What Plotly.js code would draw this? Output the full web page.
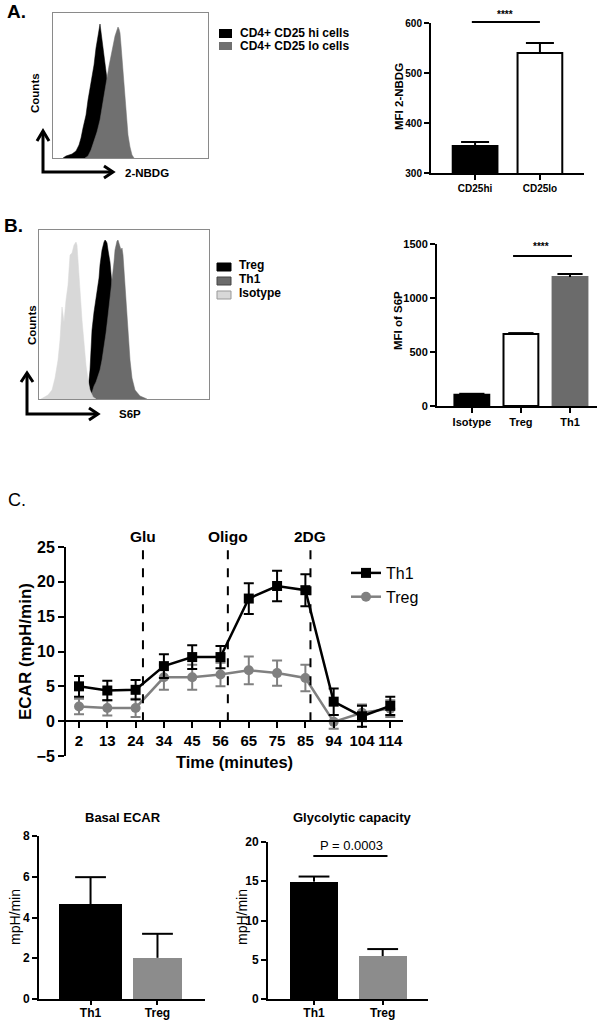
<!DOCTYPE html>
<html><head><meta charset="utf-8">
<script src="https://cdn.plot.ly/plotly-3.0.1.min.js"></script>
<style>html,body{margin:0;padding:0;background:#fff}</style>
</head><body><div id="chart" style="width:602px;height:1020px"></div>
<script>
// ---------- DATA ----------
// Panel A histogram (fluorescence channel vs counts)
const aHiChannel = [10,13,19,23,26,28,30,33,35,37,39,41,43,44,45,46,47,48,49,50,52,54,56,58,60,61];
const aHiCounts  = [0,2,4,7,13,20,30,43,58,70,78,93,110,118,123,128,134,126,118,113,98,83,63,38,13,0];
const aLoChannel = [32,35,38,41,44,47,50,52,54,56,58,60,62,64,65,66,67,68,69,71,72,73,74,75,77,79,81];
const aLoCounts  = [0,2,8,16,26,38,58,70,80,92,103,113,122,128,131,129,125,113,100,78,63,48,36,23,11,3,0];
const aLegend = ['CD4+ CD25 hi cells','CD4+ CD25 lo cells'];
// Panel A bars
const aBarCats = ['CD25hi','CD25lo'];
const aBarMean = [354, 540];
const aBarSem  = [8, 20];
// Panel B histogram
const bTregChannel = [45,49,51,52,53,55,57,58,60,61,63,65,66,67,68,69,71,73,75,77,79,81,83];
const bTregCounts  = [0,9,29,49,69,87,99,109,121,134,149,157,159,158,156,149,137,114,89,59,29,9,0];
const bTh1Channel  = [51,53,55,57,59,61,63,65,67,69,71,73,74,75,76,77,78,79,80,81,82,83,84,85,87,89,91,93,96,101,108];
const bTh1Counts   = [0,7,13,17,23,29,39,51,66,83,100,114,124,137,149,155,158,159,156,151,149,151,144,129,99,64,39,21,9,3,0];
const bIsoChannel  = [2,9,13,16,19,21,23,25,27,29,31,33,35,37,38,39,41,43,45,47,49,51,54,57];
const bIsoCounts   = [0,4,9,21,39,59,92,77,99,114,144,146,154,157,154,134,109,79,54,34,19,9,2,0];
const bLegend = ['Treg','Th1','Isotype'];
// Panel B bars
const bBarCats = ['Isotype','Treg','Th1'];
const bBarMean = [105, 667, 1194];
const bBarSem  = [8, 8, 28];
// Panel C ECAR time course
const times    = ['2','13','24','34','45','56','65','75','85','94','104','114'];
const th1Ecar  = [5.0,4.4,4.5,7.9,9.2,9.2,17.6,19.4,18.8,2.8,0.7,2.2];
const th1Sem   = [1.5,1.4,1.4,1.7,1.7,1.6,2.2,2.2,2.3,1.9,1.5,1.3];
const tregEcar = [2.1,1.9,1.9,6.3,6.3,6.7,7.3,6.9,6.2,-0.1,1.2,1.8];
const tregSem  = [1.1,1.1,1.3,1.8,1.8,1.7,2.0,1.8,1.9,1.0,1.2,1.2];
const injections = ['Glu','Oligo','2DG'];
// Bottom bars
const groupCats = ['Th1','Treg'];
const basalMean = [4.65, 2.02];
const basalSem  = [1.33, 1.18];
const glycoMean = [14.95, 5.47];
const glycoSem  = [0.65, 0.89];

// ---------- LAYOUT HELPERS ----------
const W = 602, H = 1020;
const FONT = 'Liberation Sans, Arial, sans-serif';
const dx = (a,b) => [a/W, b/W];
const dy = (t,b) => [1-b/H, 1-t/H];
const px = x => x/W;
const py = y => 1-y/H;
const P = (x,y) => `${px(x)},${py(y)}`;
const injectPos = [2.26, 5.26, 8.18];

const traces = [];
// bar + upward-only error bar (stem from bar top, cap only at the top)
function barWithError(cats, mean, sem, xa, ya, width, colors, lineColors, lineW, capSize) {
  traces.push({x:cats, y:mean, type:'bar', xaxis:xa, yaxis:ya, width:width,
    marker:{color:colors, line:{color:lineColors, width:lineW}}, showlegend:false, hoverinfo:'skip'});
  traces.push({x:cats, y:mean, type:'scatter', mode:'markers', xaxis:xa, yaxis:ya,
    marker:{size:1, color:'rgba(0,0,0,0)'},
    error_y:{type:'data', array:sem, arrayminus:sem.map(()=>0), symmetric:false, color:'#000', thickness:2, width:0},
    showlegend:false, hoverinfo:'skip'});
  traces.push({x:cats, y:mean.map((m,i)=>m+sem[i]), type:'scatter', mode:'markers', xaxis:xa, yaxis:ya,
    marker:{symbol:'line-ew', size:capSize, line:{color:'#000', width:2}}, showlegend:false, hoverinfo:'skip'});
}

// A histograms
traces.push({x:aHiChannel, y:aHiCounts, xaxis:'x', yaxis:'y', type:'scatter', mode:'lines', fill:'tozeroy',
  fillcolor:'#000000', line:{color:'#000000', width:0.5}, showlegend:false, hoverinfo:'skip'});
traces.push({x:aLoChannel, y:aLoCounts, xaxis:'x', yaxis:'y', type:'scatter', mode:'lines', fill:'tozeroy',
  fillcolor:'#707070', line:{color:'#707070', width:0.5}, showlegend:false, hoverinfo:'skip'});
// A bars
barWithError(aBarCats, aBarMean, aBarSem, 'x2', 'y2', 0.69, ['#000000','#ffffff'], '#000', 2, 20);
// B histograms
traces.push({x:bTregChannel, y:bTregCounts, xaxis:'x3', yaxis:'y3', type:'scatter', mode:'lines', fill:'tozeroy',
  fillcolor:'#000000', line:{color:'#000000', width:0.5}, showlegend:false, hoverinfo:'skip'});
traces.push({x:bTh1Channel, y:bTh1Counts, xaxis:'x3', yaxis:'y3', type:'scatter', mode:'lines', fill:'tozeroy',
  fillcolor:'#6b6b6b', line:{color:'#6b6b6b', width:0.5}, showlegend:false, hoverinfo:'skip'});
traces.push({x:bIsoChannel, y:bIsoCounts, xaxis:'x3', yaxis:'y3', type:'scatter', mode:'lines', fill:'tozeroy',
  fillcolor:'#d8d8d8', line:{color:'#d8d8d8', width:0.5}, showlegend:false, hoverinfo:'skip'});
// B bars
barWithError(bBarCats, bBarMean, bBarSem, 'x4', 'y4', 0.71, ['#000000','#ffffff','#6b6b6b'], ['#000','#000','#6b6b6b'], 2, 18);
// C lines
traces.push({x:times, y:tregEcar, name:'Treg', type:'scatter', mode:'lines+markers', xaxis:'x5', yaxis:'y5',
  line:{color:'#808080', width:2.5}, marker:{symbol:'circle', size:10, color:'#808080'},
  error_y:{type:'data', array:tregSem, color:'#808080', thickness:2, width:5}, legend:'legend', hoverinfo:'skip'});
traces.push({x:times, y:th1Ecar, name:'Th1', type:'scatter', mode:'lines+markers', xaxis:'x5', yaxis:'y5',
  line:{color:'#000000', width:2.5}, marker:{symbol:'square', size:10, color:'#000000'},
  error_y:{type:'data', array:th1Sem, color:'#000000', thickness:2, width:5}, legend:'legend', hoverinfo:'skip'});
// Basal ECAR bars
barWithError(groupCats, basalMean, basalSem, 'x6', 'y6', [0.94,0.73], ['#000000','#8c8c8c'], ['#000000','#8c8c8c'], 0, 22);
// Glycolytic capacity bars
barWithError(groupCats, glycoMean, glycoSem, 'x7', 'y7', 0.7, ['#000000','#8c8c8c'], ['#000000','#8c8c8c'], 0, 22);

const box = {showgrid:false, zeroline:false, showticklabels:false, ticks:'', showline:true, mirror:true,
  linecolor:'#8a8a8a', linewidth:1, fixedrange:true};
const ax = (size, extra) => Object.assign({showgrid:false, zeroline:false, showline:true, linecolor:'#000', linewidth:2,
  ticks:'outside', ticklen:5, tickwidth:2, tickcolor:'#000', tickangle:0,
  tickfont:{family:FONT, size:size, color:'#000', weight:700}, fixedrange:true}, extra);

const ann = [];
const A = (text, x, y, o={}) => ann.push(Object.assign({text:text, x:px(x), y:py(y), xref:'paper', yref:'paper',
  showarrow:false, xanchor:'center', yanchor:'middle',
  font:{family:FONT, size:12, color:'#000', weight:700}}, o));

A('A.', 5, 12, {xanchor:'left', font:{family:FONT, size:19, color:'#000', weight:700}});
A('Counts', 35, 93, {textangle:-90, font:{family:FONT, size:11.5, color:'#000', weight:700}});
A('2-NBDG', 147, 173, {font:{family:FONT, size:11.5, color:'#000', weight:700}});
A(aLegend[0], 238, 33, {xanchor:'left'});
A(aLegend[1], 238, 46, {xanchor:'left'});
A('MFI 2-NBDG', 399, 97, {textangle:-90, font:{family:FONT, size:11.5, color:'#000', weight:700}});
A('****', 505, 15, {font:{family:FONT, size:10, color:'#000', weight:700}});

A('B.', 2, 225, {xanchor:'left', font:{family:FONT, size:19, color:'#000', weight:700}});
A('Counts', 32, 325, {textangle:-90, font:{family:FONT, size:11.5, color:'#000', weight:700}});
A('S6P', 130, 414, {font:{family:FONT, size:11.5, color:'#000', weight:700}});
A(bLegend[0], 237, 265, {xanchor:'left'});
A(bLegend[1], 237, 279, {xanchor:'left'});
A(bLegend[2], 237, 293, {xanchor:'left'});
A('MFI of S6P', 398, 321, {textangle:-90, font:{family:FONT, size:11.5, color:'#000', weight:700}});
A('****', 541, 246, {font:{family:FONT, size:10, color:'#000', weight:700}});

A('C.', 6, 500, {xanchor:'left', font:{family:FONT, size:18, color:'#000'}});
injections.forEach((t,i) => ann.push({text:t, x:injectPos[i], xref:'x5', y:py(536), yref:'paper', showarrow:false,
  xanchor:'center', yanchor:'middle', font:{family:FONT, size:15.5, color:'#000', weight:700}}));
A('ECAR (mpH/min)', 25, 652, {textangle:-90, font:{family:FONT, size:17, color:'#000', weight:700}});
A('Time (minutes)', 234, 762, {font:{family:FONT, size:16.5, color:'#000', weight:700}});

A('Basal ECAR', 123, 817, {font:{family:FONT, size:13, color:'#000', weight:700}});
A('mpH/min', 15, 917, {textangle:-90, font:{family:FONT, size:14, color:'#000'}});
A('Glycolytic capacity', 352, 817, {font:{family:FONT, size:13, color:'#000', weight:700}});
A('mpH/min', 242, 917, {textangle:-90, font:{family:FONT, size:14, color:'#000'}});
A('P = 0.0003', 351, 845, {font:{family:FONT, size:13, color:'#000'}});

const shapes = [];
const blackLine = {color:'#000', width:3};
// A arrows
shapes.push({type:'path', xref:'paper', yref:'paper', path:`M${P(43,131)} L${P(43,172)} L${P(113,172)}`, line:blackLine});
shapes.push({type:'path', xref:'paper', yref:'paper', path:`M${P(37,141)} L${P(43,131)} L${P(49,141)}`, line:blackLine});
shapes.push({type:'path', xref:'paper', yref:'paper', path:`M${P(104,166)} L${P(113,172)} L${P(104,178)}`, line:blackLine});
// B arrows
shapes.push({type:'path', xref:'paper', yref:'paper', path:`M${P(27,373)} L${P(27,414)} L${P(98,414)}`, line:blackLine});
shapes.push({type:'path', xref:'paper', yref:'paper', path:`M${P(21,382)} L${P(27,373)} L${P(33,382)}`, line:blackLine});
shapes.push({type:'path', xref:'paper', yref:'paper', path:`M${P(89,408)} L${P(98,414)} L${P(89,420)}`, line:blackLine});
// legend squares A
shapes.push({type:'rect', xref:'paper', yref:'paper', x0:px(219), x1:px(232), y0:py(38), y1:py(29), fillcolor:'#000', line:{width:0}});
shapes.push({type:'rect', xref:'paper', yref:'paper', x0:px(219), x1:px(232), y0:py(50), y1:py(42), fillcolor:'#707070', line:{width:0}});
// legend squares B
shapes.push({type:'rect', xref:'paper', yref:'paper', x0:px(217), x1:px(231), y0:py(271), y1:py(263), fillcolor:'#000', line:{color:'#000', width:1}});
shapes.push({type:'rect', xref:'paper', yref:'paper', x0:px(217), x1:px(231), y0:py(285), y1:py(277), fillcolor:'#6b6b6b', line:{color:'#444', width:1}});
shapes.push({type:'rect', xref:'paper', yref:'paper', x0:px(217), x1:px(231), y0:py(299), y1:py(291), fillcolor:'#d8d8d8', line:{color:'#999', width:1}});
// significance lines
shapes.push({type:'line', xref:'x2', yref:'paper', x0:-0.05, x1:1.0, y0:py(22), y1:py(22), line:{color:'#000', width:2}});
shapes.push({type:'line', xref:'x4', yref:'paper', x0:0.84, x1:2.04, y0:py(256), y1:py(256), line:{color:'#000', width:2}});
shapes.push({type:'line', xref:'x7', yref:'paper', x0:-0.01, x1:1.07, y0:py(856), y1:py(856), line:{color:'#000', width:2}});
// injection dashed lines
injectPos.forEach(p => shapes.push({type:'line', xref:'x5', yref:'y5', x0:p, x1:p, y0:0, y1:25,
  line:{color:'#000', width:2, dash:'dash'}}));

const layout = {
  width:W, height:H, margin:{l:0,r:0,t:0,b:0}, paper_bgcolor:'#fff', plot_bgcolor:'rgba(0,0,0,0)',
  font:{family:FONT, color:'#000'},
  xaxis: Object.assign({}, box, {domain:dx(53,208), range:[0,155], anchor:'y'}),
  yaxis: Object.assign({}, box, {domain:dy(13,158), range:[0,145], anchor:'x'}),
  xaxis2: ax(10, {domain:dx(431,584), range:[-0.68,1.68], type:'category', anchor:'y2'}),
  yaxis2: ax(10, {domain:dy(23,173), range:[300,600], tickvals:[300,400,500,600], anchor:'x2'}),
  xaxis3: Object.assign({}, box, {domain:dx(39,209), range:[0,170], anchor:'y3'}),
  yaxis3: Object.assign({}, box, {domain:dy(230,399), range:[0,169], anchor:'x3'}),
  xaxis4: ax(11, {domain:dx(437,597), range:[-0.71,2.55], type:'category', anchor:'y4'}),
  yaxis4: ax(11, {domain:dy(244,406), range:[0,1500], tickvals:[0,500,1000,1500], anchor:'x4'}),
  xaxis5: ax(15, {domain:dx(66,403), range:[-0.46,11.45], type:'category', anchor:'free', position:py(721), ticklen:6}),
  yaxis5: ax(16, {domain:dy(547,756), range:[-5,25], tickvals:[-5,0,5,10,15,20,25], anchor:'x5', ticklen:6}),
  xaxis6: ax(12, {domain:dx(39,205), range:[-0.77,1.71], type:'category', anchor:'y6', ticklen:4, ticklabelstandoff:-2}),
  yaxis6: ax(12, {domain:dy(836,999), range:[0,8], tickvals:[0,2,4,6,8], anchor:'x6'}),
  xaxis7: ax(12, {domain:dx(268,428), range:[-0.67,1.66], type:'category', anchor:'y7', ticklen:4, ticklabelstandoff:-2}),
  yaxis7: ax(12, {domain:dy(842,999), range:[0,20], tickvals:[0,5,10,15,20], anchor:'x7'}),
  legend:{x:px(346), y:py(556), xanchor:'left', yanchor:'top', traceorder:'reversed', bgcolor:'rgba(0,0,0,0)',
    font:{family:FONT, size:16, color:'#000'}, itemwidth:30, tracegroupgap:0},
  annotations: ann,
  shapes: shapes,
  bargap:0
};
Plotly.newPlot('chart', traces, layout, {displayModeBar:false, staticPlot:true});
</script>
</body></html>
